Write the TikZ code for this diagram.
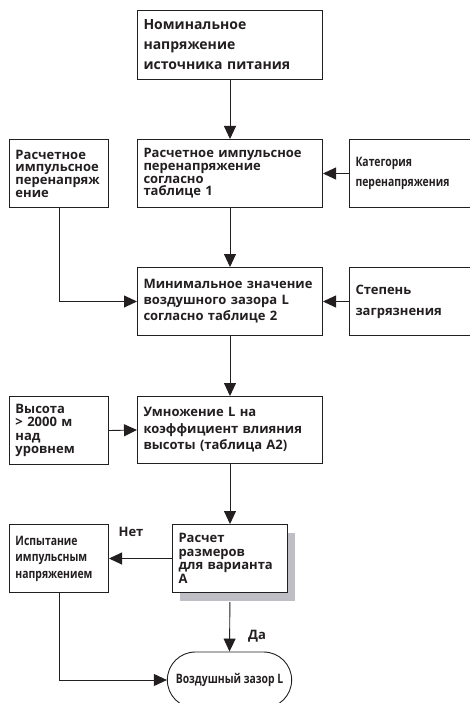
\documentclass[tikz,border=0pt]{standalone}
\usepackage{fontspec}
\setmainfont{Open Sans}
\newfontfamily\condfont{Open Sans}[FakeStretch=0.8]
\usetikzlibrary{positioning, arrows.meta, shapes.misc, shadows}
\definecolor{inkcolor}{RGB}{35,31,32}
\definecolor{shadowcolor}{RGB}{190,190,196}
\newcommand{\boxfont}[2]{\bfseries\fontsize{#1}{#2}\selectfont}

\begin{document}
\begin{tikzpicture}[x=1pt,y=-1pt]
  \tikzset{
    stage/.style={
      draw=inkcolor,
      line width=1pt,
      anchor=north west,
      align=left,
      inner xsep=6pt,
      inner ysep=0pt,
      minimum height=68pt,
      fill=white,
      text=inkcolor
    },
    terminal/.style={
      draw=inkcolor,
      line width=0.9pt,
      rounded rectangle,
      minimum width=131pt,
      minimum height=56pt,
      text=inkcolor
    },
    link/.style={
      draw=inkcolor,
      line width=0.9pt,
      -{Triangle[length=13pt,width=12pt]}
    },
    answer/.style={
      font=\boxfont{13}{13},
      text=inkcolor
    }
  }
  \useasboundingbox (0,0) rectangle (470,703);

  % Main column
  \node[stage, text width=173pt, minimum height=69pt, font=\boxfont{14}{20}] at (137,10) (nom) {
    Номинальное\\напряжение\\источника питания
  };
  \node[stage, text width=173pt, font=\boxfont{13}{12.7}] at (137,139) (imp) {
    Расчетное импульсное\\перенапряжение\\согласно\\таблице 1
  };
  \node[stage, text width=173pt, font=\boxfont{13}{16}] at (137,267) (minL) {
    Минимальное значение\\воздушного зазора L\\согласно таблице 2
  };
  \node[stage, text width=173pt, minimum height=67pt, font=\boxfont{13}{16.5}] at (137,396) (mult) {
    Умножение L на\\коэффициент влияния\\высоты (таблица А2)
  };
  \node[stage, text width=103pt, drop shadow={shadow xshift=7pt, shadow yshift=-8pt, fill=shadowcolor, opacity=1}, font=\boxfont{13}{13.7}] at (172,524) (dimA) {
    Расчет\\размеров\\для варианта\\А
  };
  \node[terminal, font=\condfont\boxfont{13}{13}] at (229.5,680) (air) {Воздушный зазор L};

  % Left column
  \node[stage, text width=87pt, font=\boxfont{13}{12.7}] at (9,139) (calc) {
    Расчетное\\импульсное\\перенапряж\\ение
  };
  \node[stage, text width=87pt, font=\boxfont{13}{13.3}] at (9,396) (alt) {
    Высота\\> 2000 м\\над\\уровнем
  };
  \node[stage, text width=87pt, font=\condfont\boxfont{13}{16.5}] at (9,524) (test) {
    Испытание\\импульсным\\напряжением
  };

  % Right column
  \node[stage, text width=119pt, font=\condfont\boxfont{13}{20}] at (349,139) (cat) {
    Категория\\перенапряжения\\[4pt]
  };
  \node[stage, text width=119pt, font=\boxfont{13}{21}] at (349,267) (poll) {
    Степень\\загрязнения
  };

  % Answers
  \node[answer] at (131,532) (no) {Нет};
  \node[answer] at (257,636) (yes) {Да};

  % Connectors
  \draw[link] (nom) -- (imp);
  \draw[link] (cat.west) -- (imp.east);
  \draw[link] (calc.south) |- (minL.west);
  \draw[link] (imp) -- (minL);
  \draw[link] (poll.west) -- (minL.east);
  \draw[link] (minL) -- (mult);
  \draw[link] (alt.east) -- (mult.west);
  \draw[link] (mult) -- (dimA);
  \draw[link] (dimA.west) -- (test.east);
  \draw[link, shorten <=9pt] (dimA.south) -- (air.north);
  \draw[link] (test.south) |- (air.west);
\end{tikzpicture}
\end{document}
